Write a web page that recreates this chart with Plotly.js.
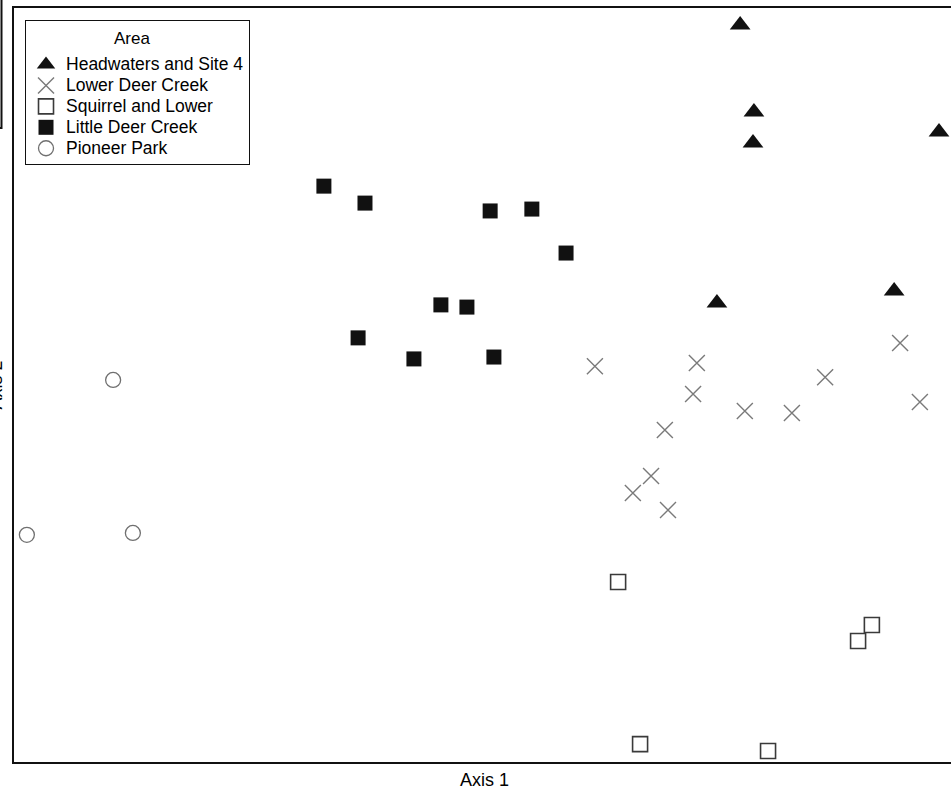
<!DOCTYPE html>
<html>
<head>
<meta charset="utf-8">
<script src="https://cdn.plot.ly/plotly-3.0.1.min.js"></script>
<style>
html,body{margin:0;padding:0;overflow:hidden;background:#fff;width:951px;height:792px;}
#chart{position:absolute;left:-20px;top:0;width:980px;height:792px;}
</style>
</head>
<body>
<div id="chart"></div>
<script>
// NMS ordination scores (axes carry no tick labels)
const seriesNames = ["Headwaters and Site 4", "Lower Deer Creek", "Squirrel and Lower", "Little Deer Creek", "Pioneer Park"];
const legendTitle = "Area";

const headwatersX = [0.815, 0.859, 0.856, 1.449, 0.741, 1.306];
const headwatersY = [1.146, 0.869, 0.770, 0.805, 0.261, 0.299];

const lowerDeerX = [0.352, 0.677, 0.665, 0.830, 0.980, 1.086, 1.325, 1.388, 0.575, 0.531, 0.473, 0.585];
const lowerDeerY = [0.060, 0.070, -0.029, -0.083, -0.089, 0.025, 0.134, -0.054, -0.143, -0.290, -0.344, -0.398];

const squirrelX = [0.426, 1.235, 1.191, 0.496, 0.904];
const squirrelY = [-0.627, -0.764, -0.815, -1.143, -1.165];

const littleDeerX = [-0.512, -0.381, 0.018, 0.151, 0.260, -0.139, -0.056, -0.403, -0.225, 0.030];
const littleDeerY = [0.633, 0.579, 0.554, 0.560, 0.420, 0.255, 0.248, 0.150, 0.083, 0.089];

const pioneerX = [-1.184, -1.459, -1.121];
const pioneerY = [0.016, -0.477, -0.471];

const xRange = [-1.5, 1.5];
const yRange = [-1.2, 1.2];

const FONT = "Liberation Sans, Arial, sans-serif";
const lbl = n => '<span style="font-size:17.5px">' + n + '</span>';

const traces = [
  {x: headwatersX, y: headwatersY, name: lbl(seriesNames[0]), type: "scatter", mode: "markers",
   marker: {symbol: "triangle-up", size: 18, color: "#111111", line: {width: 0}}},
  {x: lowerDeerX, y: lowerDeerY, name: lbl(seriesNames[1]), type: "scatter", mode: "markers",
   marker: {symbol: "x-thin-open", size: 16, color: "#7a7a7a", line: {width: 1.4, color: "#7a7a7a"}}},
  {x: squirrelX, y: squirrelY, name: lbl(seriesNames[2]), type: "scatter", mode: "markers",
   marker: {symbol: "square-open", size: 15, color: "#3a3a3a", line: {width: 1.6, color: "#3a3a3a"}}},
  {x: littleDeerX, y: littleDeerY, name: lbl(seriesNames[3]), type: "scatter", mode: "markers",
   marker: {symbol: "square", size: 15, color: "#111111", line: {width: 0}}},
  {x: pioneerX, y: pioneerY, name: lbl(seriesNames[4]), type: "scatter", mode: "markers",
   marker: {symbol: "circle-open", size: 15, color: "#707070", line: {width: 1.3, color: "#707070"}}}
];

const axisCommon = {
  showgrid: false, zeroline: false, showticklabels: false, ticks: "",
  showline: true, mirror: true, linecolor: "#111111", linewidth: 2,
  fixedrange: true
};

const layout = {
  width: 980, height: 792,
  margin: {l: 34, r: 5, t: 8, b: 30},
  paper_bgcolor: "#ffffff", plot_bgcolor: "#ffffff",
  font: {family: FONT, size: 17, color: "#000000"},
  xaxis: Object.assign({}, axisCommon, {range: xRange,
    title: {text: "Axis 1", font: {family: FONT, size: 18, color: "#000"}, standoff: 10}}),
  yaxis: Object.assign({}, axisCommon, {range: yRange,
    title: {text: "Axis 2", font: {family: FONT, size: 18, color: "#000"}, standoff: 5}}),
  showlegend: true,
  legend: {
    x: 0.0117, y: 0.984, xanchor: "left", yanchor: "top",
    bgcolor: "#ffffff", bordercolor: "#111111", borderwidth: 1,
    font: {family: FONT, size: 13.8, color: "#000"},
    title: {text: " ", side: "top center", font: {family: FONT, size: 21.5, color: "#000"}},
    itemwidth: 30, tracegroupgap: 0
  },
  annotations: [
    {text: legendTitle, xref: "paper", yref: "paper", x: 0.1259, y: 0.9596,
     xanchor: "center", yanchor: "middle", showarrow: false,
     font: {family: FONT, size: 17, color: "#000"}}
  ],
  shapes: [
    {type: "path", xref: "paper", yref: "paper",
     path: "M -0.01328 1.0106 L -0.01328 0.8408 L -0.01488 0.8408",
     line: {color: "#111111", width: 2}}
  ]
};

Plotly.newPlot("chart", traces, layout, {displayModeBar: false, staticPlot: true});
</script>
</body>
</html>
